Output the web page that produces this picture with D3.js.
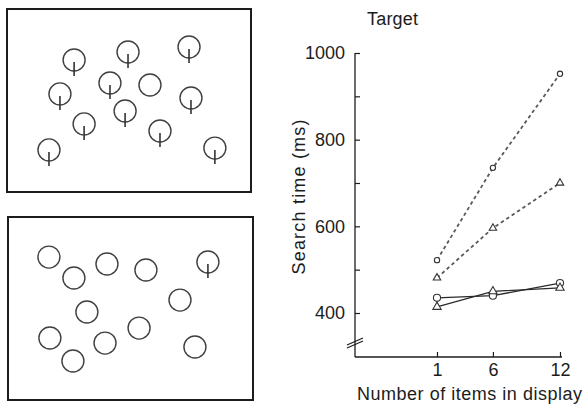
<!DOCTYPE html>
<html>
<head>
<meta charset="utf-8">
<script src="https://cdn.jsdelivr.net/npm/d3@7"></script>
<style>
  html, body { margin: 0; padding: 0; background: #fff; }
  svg { display: block; font-family: "Liberation Sans", Arial, Helvetica, sans-serif; }
</style>
</head>
<body>
<svg id="fig" width="584" height="408"></svg>
<script>
// ---- Stimulus displays (item positions in 0-100 display units) ----
// Top display: target is the plain circle among circles with a vertical bar.
const topItemsX   = [27.5, 49.6, 74.6, 21.7, 42.2, 58.6, 75.4, 48.4, 31.6, 62.7, 17.2, 85.2];
const topItemsY   = [27.9, 23.5, 20.8, 46.4, 40.4, 41.5, 48.6, 55.7, 62.8, 66.7, 77.0, 76.0];
const topItemsBar = [1, 1, 1, 1, 1, 0, 1, 1, 1, 1, 1, 1];
// Bottom display: target is the circle with a bar among plain circles.
const botItemsX   = [16.7, 26.9, 40.4, 56.3, 81.6, 70.2, 32.2, 17.1, 53.5, 39.6, 26.5, 76.3];
const botItemsY   = [21.9, 33.3, 25.7, 29.0, 24.6, 45.4, 51.9, 66.1, 60.7, 68.9, 78.7, 71.0];
const botItemsBar = [0, 0, 0, 0, 1, 0, 0, 0, 0, 0, 0, 0];

// ---- Search-time data ----
const setSizes = [1, 6, 12];
const xTickLabels = ["1", "6", "12"];
const yTicks = [400, 500, 600, 700, 800, 900, 1000];
const dashedCircle   = [522, 735, 952];   // plain-circle target, dashed
const dashedTriangle = [481, 596, 700];
const solidCircle    = [435, 440, 469];   // bar target, solid
const solidTriangle  = [414, 450, 458];

const svg = d3.select("#fig");
const ink = "#1c1c1c";

// ---- Draw the two stimulus panels ----
function drawPanel(box, xs, ys, bars) {
  const g = svg.append("g");
  g.append("rect")
    .attr("x", box.x).attr("y", box.y).attr("width", box.w).attr("height", box.h)
    .attr("fill", "none").attr("stroke", ink).attr("stroke-width", 2);
  const sx = d3.scaleLinear().domain([0, 100]).range([box.x, box.x + box.w]);
  const sy = d3.scaleLinear().domain([0, 100]).range([box.y, box.y + box.h]);
  const r = 11;
  const items = xs.map((x, i) => ({ x, y: ys[i], bar: bars[i] }));
  const it = g.selectAll("g.item").data(items).join("g").attr("class", "item");
  it.append("circle")
    .attr("cx", d => sx(d.x)).attr("cy", d => sy(d.y)).attr("r", r)
    .attr("fill", "none").attr("stroke", "#404040").attr("stroke-width", 1.4);
  it.filter(d => d.bar).append("line")
    .attr("x1", d => sx(d.x)).attr("x2", d => sx(d.x))
    .attr("y1", d => sy(d.y) + 2).attr("y2", d => sy(d.y) + r + 5)
    .attr("stroke", "#333").attr("stroke-width", 1.6);
}
drawPanel({ x: 7, y: 9, w: 244, h: 183 }, topItemsX, topItemsY, topItemsBar);
drawPanel({ x: 8, y: 217, w: 245, h: 183 }, botItemsX, botItemsY, botItemsBar);

// ---- Graph ----
const axisX = 355, axisBottom = 357;
const x = d3.scaleLinear().domain([1, 12]).range([437, 560]);
const y = d3.scaleLinear().domain([400, 1000]).range([313, 53]);

// y axis: labels on the left, short ticks pointing right
const gy = svg.append("g").attr("transform", `translate(${axisX},0)`)
  .call(d3.axisLeft(y).tickValues(yTicks)
    .tickFormat(d => d % 200 === 0 ? d : "")
    .tickSizeInner(-5).tickSizeOuter(0).tickPadding(10));
gy.select(".domain").remove();
gy.selectAll(".tick line").attr("stroke", ink).attr("stroke-width", 1.2);
gy.selectAll(".tick text").attr("font-size", 18).attr("fill", ink)
  .attr("font-family", "Liberation Sans, Arial, sans-serif");
gy.append("line").attr("x1", 0).attr("x2", 0)
  .attr("y1", y(1000)).attr("y2", axisBottom)
  .attr("stroke", ink).attr("stroke-width", 1.3);

// axis break marks
[0, 3].forEach(off => {
  svg.append("line")
    .attr("x1", axisX - 8).attr("y1", 345 + off)
    .attr("x2", axisX + 8).attr("y2", 338 + off)
    .attr("stroke", ink).attr("stroke-width", 1.2);
});

// x axis: ticks pointing up
const gx = svg.append("g").attr("transform", `translate(0,${axisBottom})`)
  .call(d3.axisBottom(x).tickValues(setSizes)
    .tickFormat((d, i) => xTickLabels[i])
    .tickSizeInner(-5).tickSizeOuter(0).tickPadding(6));
gx.select(".domain").remove();
gx.selectAll(".tick line").attr("stroke", ink).attr("stroke-width", 1.2);
gx.selectAll(".tick text").attr("font-size", 18).attr("fill", ink)
  .attr("font-family", "Liberation Sans, Arial, sans-serif");
gx.append("line").attr("x1", axisX).attr("x2", 562).attr("y1", 0).attr("y2", 0)
  .attr("stroke", ink).attr("stroke-width", 1.3);

// series
const series = [
  { vals: dashedCircle,   shape: "circle",   dashed: true },
  { vals: dashedTriangle, shape: "triangle", dashed: true },
  { vals: solidCircle,    shape: "circle",   dashed: false },
  { vals: solidTriangle,  shape: "triangle", dashed: false }
];
const line = d3.line().x((d, i) => x(setSizes[i])).y(d => y(d));
series.forEach(s => {
  svg.append("path").datum(s.vals).attr("d", line)
    .attr("fill", "none")
    .attr("stroke", s.dashed ? "#5a5a5a" : "#2a2a2a")
    .attr("stroke-width", s.dashed ? 1.8 : 1.3)
    .attr("stroke-dasharray", s.dashed ? "3.5,3" : null);
  const sym = d3.symbol()
    .type(s.shape === "circle" ? d3.symbolCircle : d3.symbolTriangle)
    .size(s.shape === "circle" ? (s.dashed ? 22 : 40) : (s.dashed ? 24 : 30));
  svg.append("g").selectAll("path").data(s.vals).join("path")
    .attr("d", sym)
    .attr("transform", (d, i) => `translate(${x(setSizes[i])},${y(d)})`)
    .attr("fill", "#fff").attr("stroke", "#333").attr("stroke-width", 1.1);
});

// titles and axis labels
svg.append("text").attr("x", 367).attr("y", 25)
  .attr("font-size", 18).attr("fill", ink)
  .attr("textLength", 51).attr("lengthAdjust", "spacing")
  .text("Target");
svg.append("text")
  .attr("transform", `translate(305,197) rotate(-90)`)
  .attr("text-anchor", "middle").attr("font-size", 18).attr("fill", ink)
  .attr("textLength", 155).attr("lengthAdjust", "spacing")
  .text("Search time (ms)");
svg.append("text").attr("x", 357).attr("y", 400)
  .attr("font-size", 18).attr("fill", ink)
  .attr("textLength", 225).attr("lengthAdjust", "spacing")
  .text("Number of items in display");
</script>
</body>
</html>
